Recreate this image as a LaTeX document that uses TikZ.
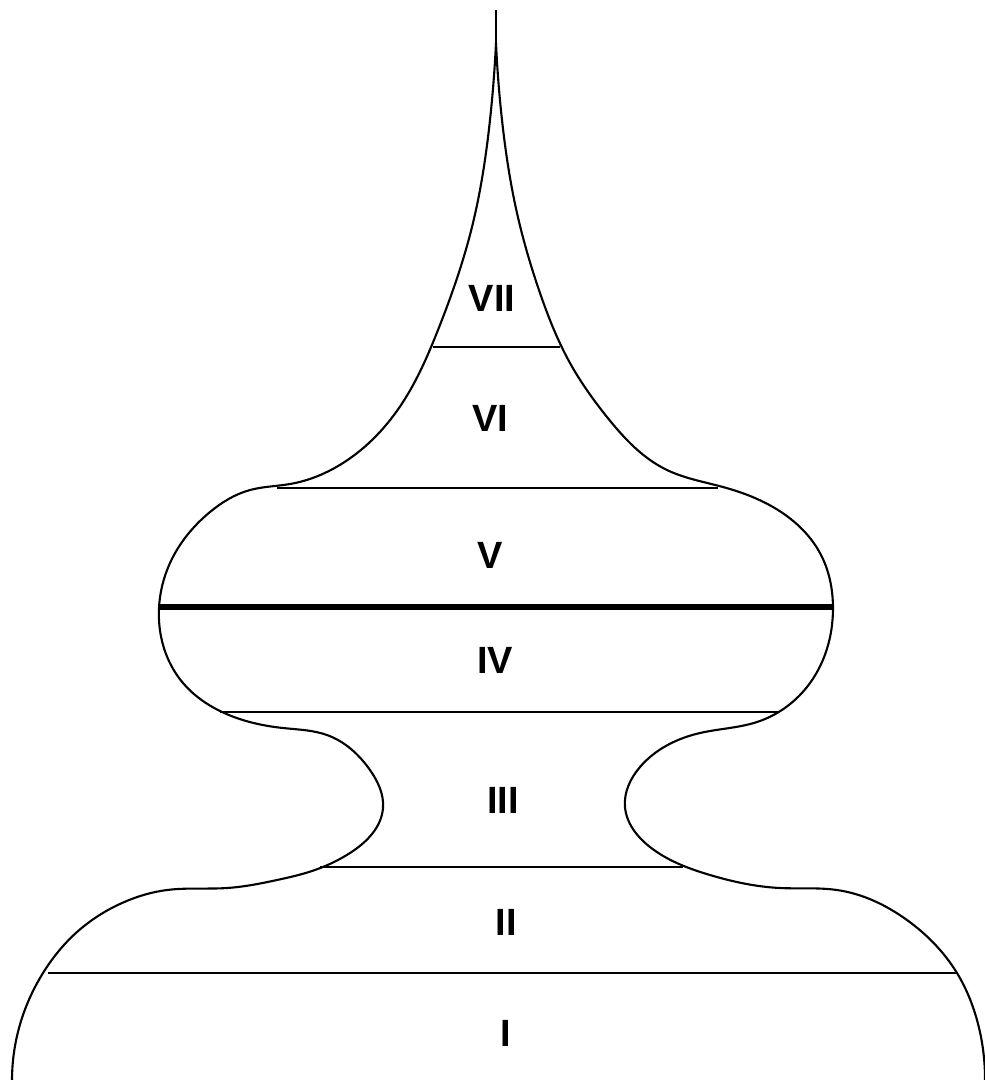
\documentclass[tikz,border=0pt]{standalone}
\usepackage{fontspec}
\newfontfamily\zonefont{Liberation Sans}
\usetikzlibrary{positioning,hobby}

\begin{document}
\begin{tikzpicture}[x=0.1mm, y=-0.1mm,
  outline/.style={line width=0.6pt, line join=round, use Hobby shortcut},
  divider/.style={line width=0.55pt},
  main divider/.style={line width=1.5pt},
  zone/.style={font=\zonefont\bfseries\fontsize{10.8}{12}\selectfont, inner sep=0pt}]
\useasboundingbox (0,0) rectangle (985,1080);
% outer contour, left half (bottom -> spire tip)
\draw[outline] (12,1080) .. (19,1028) .. (43,973) .. (77,932)
  .. (122,903) .. (167,890) .. (227,888) .. (277,880) .. (312,871) .. (350,853)
  .. (383,808) .. (370,770) .. (327,735) .. (283,728) .. (220,711) .. (183,683)
  .. (159,608) .. (170,563) .. (210,512) .. (250,490) .. (290,484) .. (343,463)
  .. (403,402) .. (438,330) .. (472,227) .. (490,120) .. (496,43);
% outer contour, right half (spire tip -> bottom)
\draw[outline] (496,43) .. (502,120) .. (517,213) .. (540,293) .. (570,363)
  .. (607,417) .. (667,470) .. (723,487) .. (773,507) .. (820,553) .. (833,608)
  .. (807,687) .. (757,722) .. (700,733) .. (640,767) .. (625,807) .. (650,847)
  .. (710,875) .. (780,888) .. (837,890) .. (907,920) .. (957,973) .. (977,1020)
  .. (985,1080);
\draw[line width=0.6pt] (496,10) -- (496,43);
% layer boundaries
\draw[divider] (433,347) -- (560,347);
\draw[divider] (277,488) -- (718,488);
\draw[main divider] (158,607) -- (832,607);
\draw[divider] (220,712) -- (778,712);
\draw[divider] (320,867) -- (683,867);
\draw[divider] (48,973) -- (956,973);
% zone labels
\node[zone] (z7) at (492,298) {VII};
\node[zone] (z6) at (490,418) {VI};
\node[zone] (z5) at (490,555) {V};
\node[zone] (z4) at (495,660) {IV};
\node[zone] (z3) at (503,800) {III};
\node[zone] (z2) at (506,922) {II};
\node[zone] (z1) at (506,1033) {I};
\end{tikzpicture}
\end{document}
